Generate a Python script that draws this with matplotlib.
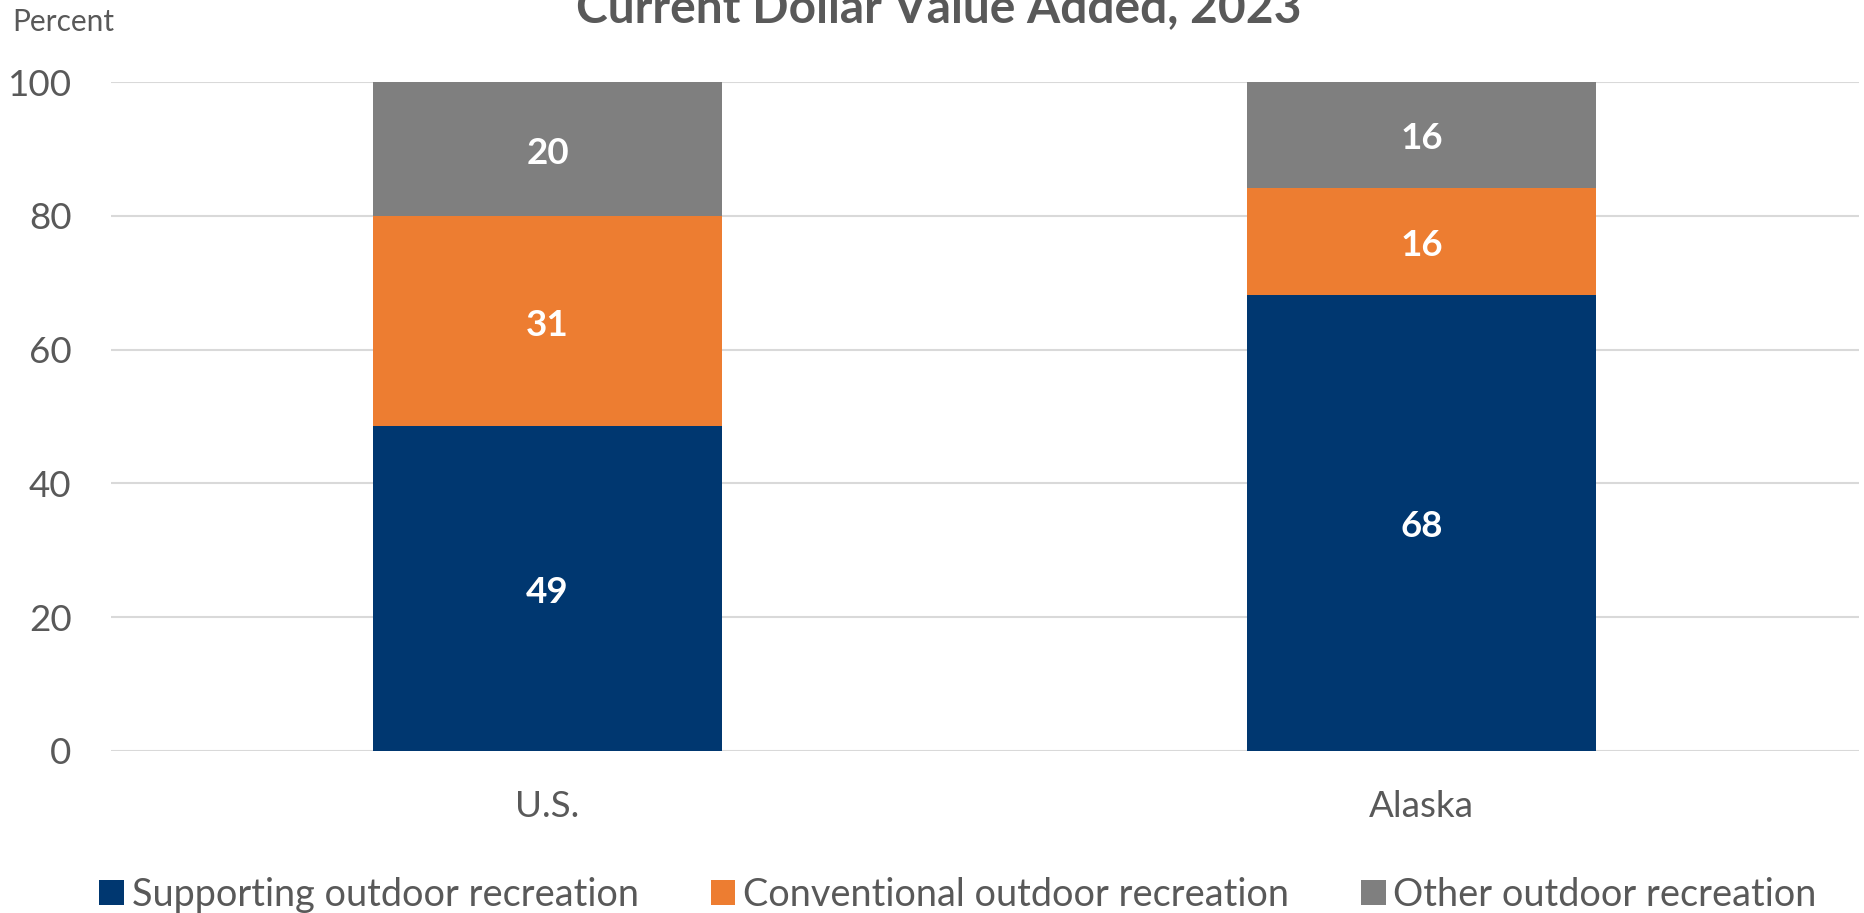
import matplotlib.pyplot as plt
import numpy as np

# Data
regions = ['U.S.', 'Alaska']
supporting = [48.6, 68.2]
conventional = [31.3, 16.0]
other = [20.1, 15.8]
series_names = ['Supporting outdoor recreation', 'Conventional outdoor recreation',
                'Other outdoor recreation']
colors = ['#003770', '#ED7D31', '#7F7F7F']
text_color = '#595959'

plt.rcParams['font.family'] = ['Lato', 'DejaVu Sans']

fig = plt.figure(figsize=(18.64, 9.13), dpi=100)
ax = fig.add_axes([110.6 / 1864, 1 - 751 / 913, 1748 / 1864, 669 / 913])

x = np.arange(len(regions))
bottom = np.zeros(len(regions))
for name, vals, c in zip(series_names, [supporting, conventional, other], colors):
    bars = ax.bar(x, vals, 0.4, bottom=bottom, color=c, label=name, zorder=3)
    for xi, b, v in zip(x, bottom, vals):
        ax.text(xi, b + v / 2 - 0.6, f'{round(v):.0f}', ha='center', va='center',
                color='white', fontsize=26.5, fontweight='bold', zorder=4)
    bottom += np.array(vals)

ax.set_xlim(-0.5, 1.5)
ax.set_ylim(0, 100)
ax.set_yticks(range(0, 101, 20))
ax.set_xticks(x)
ax.set_xticklabels(regions)
ax.grid(axis='y', color='#D9D9D9', linewidth=1.5, zorder=0)
ax.tick_params(axis='both', length=0, labelsize=26.5, labelcolor=text_color)
ax.tick_params(axis='x', pad=28)
ax.tick_params(axis='y', pad=28)
for s in ax.spines.values():
    s.set_visible(False)

fig.text(12 / 1864, 1 - 22 / 913, 'Percent', fontsize=21.5, color=text_color,
         ha='left', va='center')
fig.text(939 / 1864, 1 - 22 / 913, 'Current Dollar Value Added, 2023', fontsize=34.5,
         fontweight='bold', color=text_color, ha='center', va='baseline')

fig.legend(loc='center', bbox_to_anchor=(958 / 1864, 1 - 895 / 913), ncol=3, frameon=False,
           fontsize=27.3, labelcolor=text_color, handlelength=0.65, handleheight=0.65,
           handletextpad=0.2, columnspacing=1.9)

fig.savefig('out.png', dpi=100)
